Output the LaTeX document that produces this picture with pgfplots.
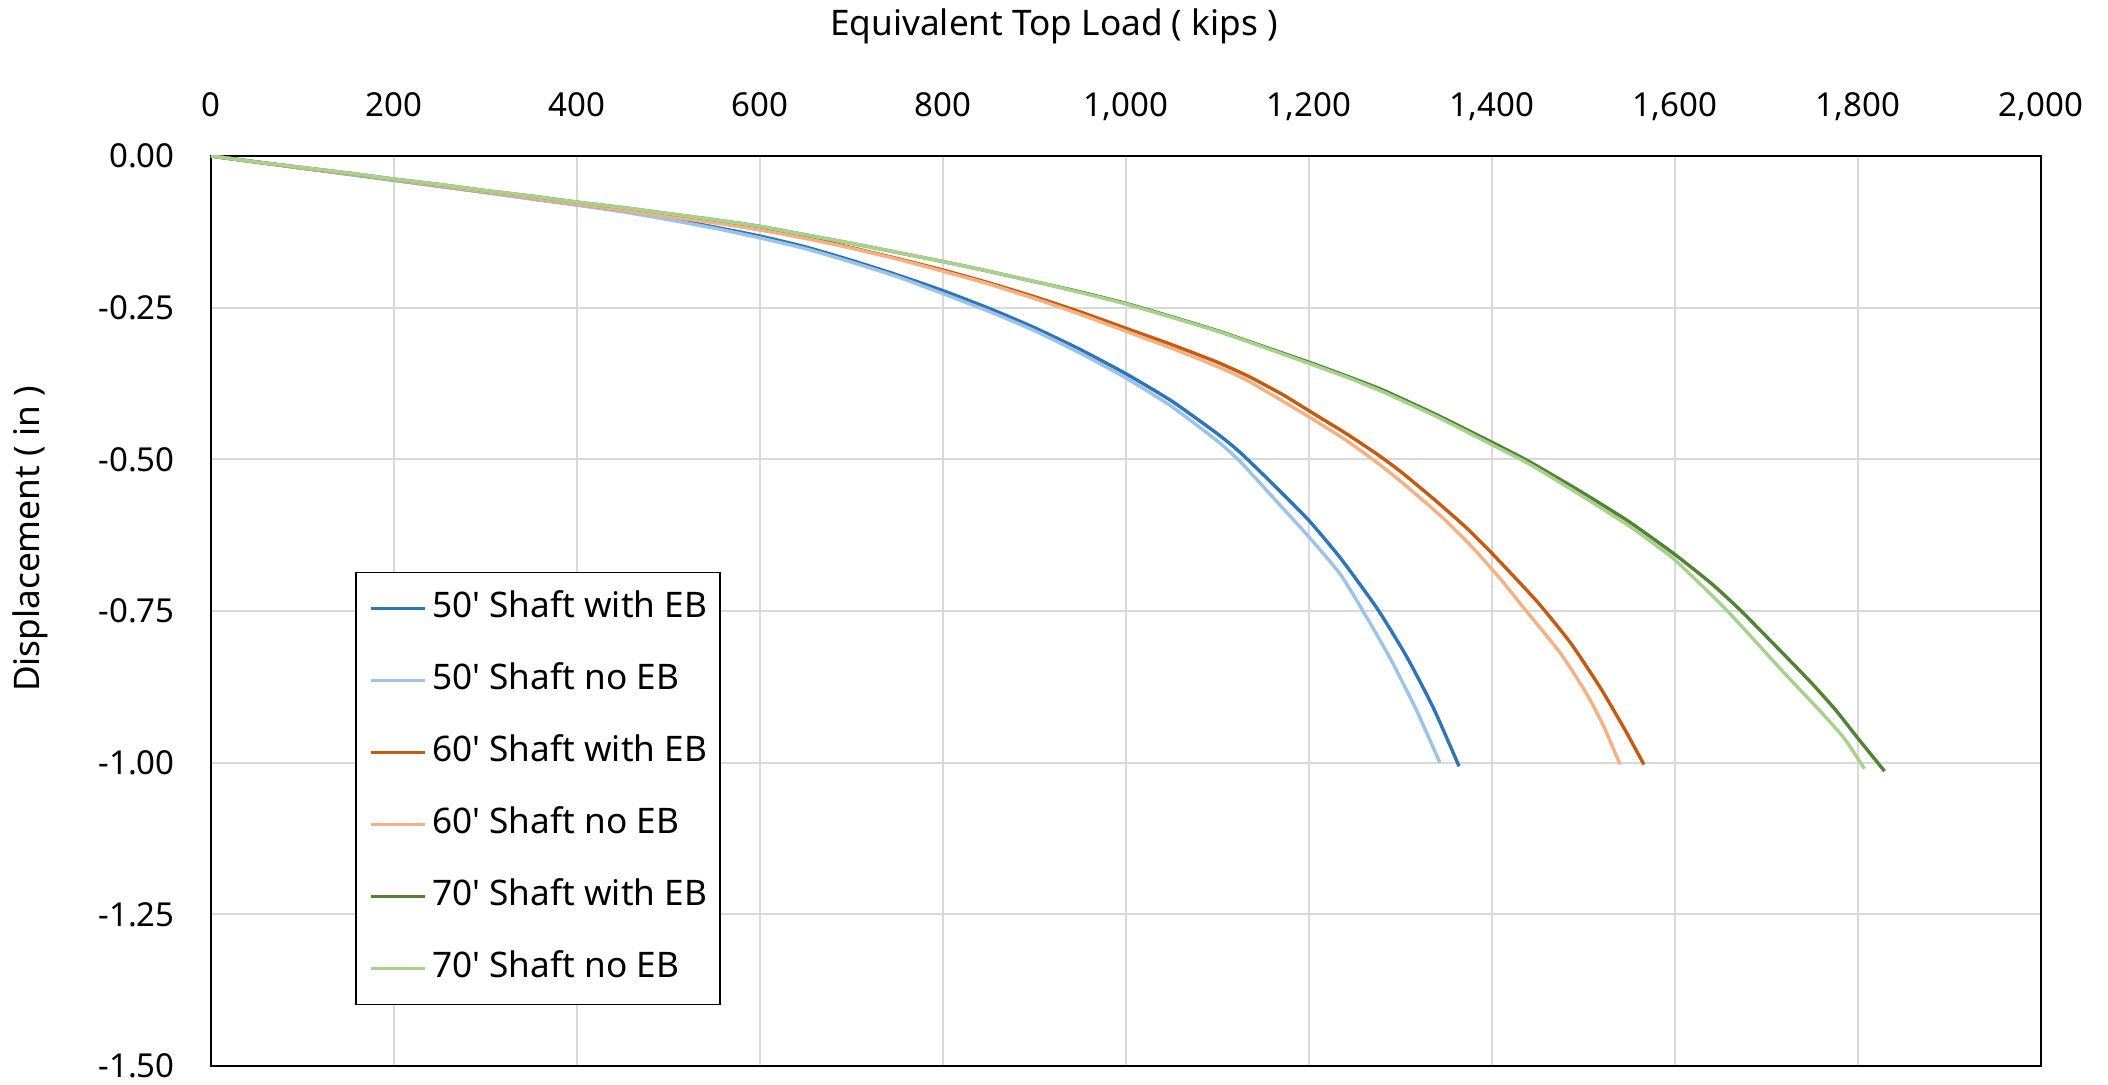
\documentclass[border=0pt]{standalone}
\usepackage{fontspec}
\setmainfont{Noto Sans}
\usepackage{pgfplots}
\pgfplotsset{compat=1.18}
\definecolor{cA}{HTML}{2E75B6}
\definecolor{cB}{HTML}{9DC3E6}
\definecolor{cC}{HTML}{C55A11}
\definecolor{cD}{HTML}{F4B183}
\definecolor{cE}{HTML}{548235}
\definecolor{cF}{HTML}{A9D18E}
\definecolor{gridc}{HTML}{D9D9D9}
\begin{document}
\begin{tikzpicture}
\path[use as bounding box] (-105.5pt,78pt) rectangle (948.5pt,-464.5pt);
\begin{axis}[
  at={(0pt,0pt)}, anchor=north west,
  scale only axis, width=915pt, height=455pt,
  xmin=0, xmax=2000, ymin=-1.5, ymax=0,
  xtick={0,200,...,2000}, ytick={-1.5,-1.25,...,0},
  grid=major, major grid style={draw=gridc, line width=1pt},
  axis line style={line width=1pt, black},
  major tick length=0pt,
  xticklabel pos=upper,
  x tick label style={/pgf/number format/fixed, /pgf/number format/precision=0, /pgf/number format/1000 sep={,}},
  y tick label style={/pgf/number format/fixed, /pgf/number format/fixed zerofill, /pgf/number format/precision=2},
  /pgf/number format/assume math mode=true,
  tick label style={font=\fontsize{16.5}{19}\selectfont},
  xticklabel style={anchor=base, inner sep=0pt, yshift=19.5pt},
  yticklabel style={anchor=east, inner sep=0pt, xshift=-18pt},
  xlabel={Equivalent Top Load ( kips )},
  ylabel={Displacement ( in )},
  label style={font=\fontsize{17.6}{21}\selectfont},
  xlabel style={at={(axis description cs:0.4607,1.1319)}, anchor=base},
  ylabel style={at={(axis description cs:-0.0989,0.579)}, anchor=center},
  legend style={at={(axis description cs:0.0787,0.543)}, anchor=north west,
    draw=black, line width=0.8pt, fill=white, inner xsep=6.5pt, inner ysep=9.5pt,
    font=\fontsize{17.6}{21}\selectfont, row sep=19pt, column sep=3pt,
    nodes={inner sep=0pt, text height=13pt, text depth=4pt}},
  legend cell align=left,
  legend image code/.code={\draw[#1, line width=1.7pt] (0pt,0pt) -- (27pt,0pt);},
  every axis plot/.append style={line width=1.7pt, line join=round, no markers, smooth, tension=0.35},
]
\addplot[cA] coordinates {
(0,0) (50,-0.010) (100,-0.020) (150,-0.030) (200,-0.040) (250,-0.050) (300,-0.060)
(350,-0.070) (400,-0.080) (450,-0.091) (500,-0.103) (550,-0.117) (600,-0.132)
(650,-0.150) (700,-0.172) (750,-0.196) (800,-0.222) (850,-0.251) (900,-0.283)
(950,-0.319) (1000,-0.359) (1050,-0.404) (1100,-0.458) (1125,-0.489) (1160,-0.540)
(1200,-0.601) (1235,-0.664) (1275,-0.747) (1307,-0.826) (1336,-0.910) (1364,-1.006)
};
\addlegendentry{50\textquotesingle{} Shaft with EB}
\addplot[cB] coordinates {
(0,0) (50,-0.010) (100,-0.020) (150,-0.030) (200,-0.040) (250,-0.050) (300,-0.060)
(350,-0.071) (400,-0.081) (450,-0.092) (500,-0.105) (550,-0.119) (600,-0.135)
(650,-0.153) (700,-0.175) (750,-0.199) (800,-0.227) (850,-0.256) (900,-0.288)
(950,-0.325) (1000,-0.366) (1050,-0.413) (1100,-0.470) (1125,-0.504) (1168,-0.575)
(1200,-0.628) (1234,-0.689) (1259,-0.750) (1288,-0.826) (1317,-0.912) (1343,-1.000)
};
\addlegendentry{50\textquotesingle{} Shaft no EB}
\addplot[cC] coordinates {
(0,0) (50,-0.010) (100,-0.020) (150,-0.029) (200,-0.039) (250,-0.049) (300,-0.059)
(350,-0.069) (400,-0.079) (450,-0.089) (500,-0.099) (550,-0.109) (600,-0.121)
(650,-0.134) (700,-0.151) (750,-0.169) (800,-0.188) (850,-0.209) (900,-0.232)
(950,-0.257) (1000,-0.284) (1050,-0.311) (1100,-0.340) (1135,-0.364) (1172,-0.394)
(1200,-0.420) (1240,-0.457) (1274,-0.491) (1300,-0.520) (1336,-0.565) (1370,-0.610)
(1400,-0.655) (1449,-0.734) (1486,-0.803) (1519,-0.878) (1545,-0.945) (1566,-1.003)
};
\addlegendentry{60\textquotesingle{} Shaft with EB}
\addplot[cD] coordinates {
(0,0) (50,-0.010) (100,-0.020) (150,-0.029) (200,-0.039) (250,-0.049) (300,-0.059)
(350,-0.069) (400,-0.079) (450,-0.089) (500,-0.100) (550,-0.110) (600,-0.122)
(650,-0.136) (700,-0.152) (750,-0.170) (800,-0.190) (850,-0.211) (900,-0.235)
(950,-0.261) (1000,-0.289) (1050,-0.317) (1100,-0.347) (1135,-0.372) (1200,-0.430)
(1240,-0.468) (1274,-0.505) (1300,-0.536) (1343,-0.592) (1376,-0.641) (1408,-0.695)
(1431,-0.738) (1475,-0.820) (1504,-0.888) (1522,-0.940) (1540,-1.003)
};
\addlegendentry{60\textquotesingle{} Shaft no EB}
\addplot[cE] coordinates {
(0,0) (50,-0.010) (100,-0.019) (150,-0.028) (200,-0.038) (250,-0.047) (300,-0.057)
(350,-0.066) (400,-0.076) (450,-0.085) (500,-0.095) (550,-0.105) (600,-0.116)
(650,-0.130) (700,-0.144) (750,-0.159) (800,-0.174) (850,-0.190) (900,-0.207)
(950,-0.224) (1000,-0.243) (1050,-0.265) (1100,-0.288) (1135,-0.306) (1200,-0.340)
(1240,-0.362) (1281,-0.386) (1340,-0.427) (1400,-0.472) (1441,-0.504) (1499,-0.555)
(1550,-0.603) (1600,-0.657) (1640,-0.705) (1671,-0.748) (1718,-0.820) (1750,-0.870)
(1776,-0.914) (1800,-0.960) (1829,-1.014)
};
\addlegendentry{70\textquotesingle{} Shaft with EB}
\addplot[cF] coordinates {
(0,0) (50,-0.010) (100,-0.019) (150,-0.028) (200,-0.038) (250,-0.047) (300,-0.057)
(350,-0.066) (400,-0.076) (450,-0.085) (500,-0.095) (550,-0.105) (600,-0.116)
(650,-0.130) (700,-0.144) (750,-0.159) (800,-0.174) (850,-0.190) (900,-0.207)
(950,-0.225) (1000,-0.244) (1050,-0.266) (1100,-0.289) (1135,-0.307) (1200,-0.342)
(1240,-0.364) (1281,-0.389) (1340,-0.430) (1400,-0.476) (1441,-0.508) (1499,-0.561)
(1550,-0.610) (1573,-0.635) (1600,-0.666) (1656,-0.748) (1718,-0.850) (1758,-0.914)
(1785,-0.960) (1807,-1.010)
};
\addlegendentry{70\textquotesingle{} Shaft no EB}
\end{axis}
\end{tikzpicture}
\end{document}
